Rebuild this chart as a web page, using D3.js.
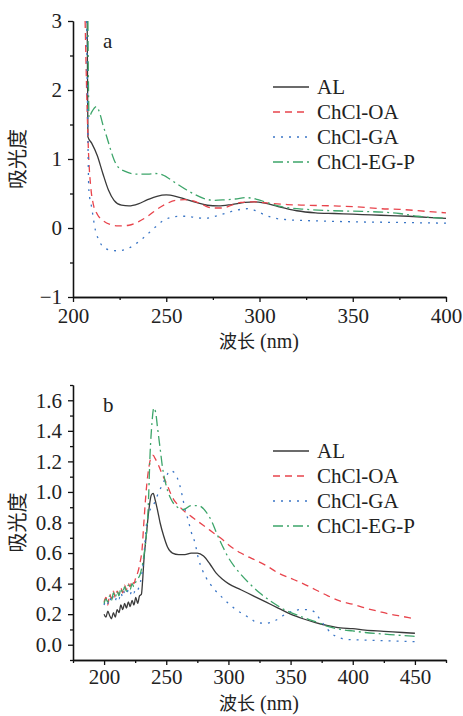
<!DOCTYPE html>
<html>
<head>
<meta charset="utf-8">
<script src="https://cdn.jsdelivr.net/npm/d3@7"></script>
<style>
  body { margin: 0; background: #fff; }
</style>
</head>
<body>
<div id="chart"></div>
<script>
// series names, shared by both panels
var names = ["AL", "ChCl-OA", "ChCl-GA", "ChCl-EG-P"];

// panel a: [wavelength nm, absorbance]
var alA = [[207.6,3.0],[208,1.32],[210,1.23],[213,1.05],[216,0.79],[219,0.55],[222,0.4],[226,0.33],[230,0.32],[235,0.35],[240,0.41],[245,0.46],[250,0.48],[255,0.46],[260,0.42],[266,0.37],[272,0.33],[278,0.32],[285,0.34],[292,0.37],[297,0.38],[303,0.36],[310,0.31],[320,0.25],[330,0.22],[340,0.21],[350,0.2],[360,0.19],[370,0.18],[380,0.17],[390,0.155],[400,0.14]];
var oaA = [[206.5,3.0],[207.5,1.8],[208.3,1.1],[209.5,0.6],[211,0.33],[213,0.2],[216,0.11],[220,0.05],[224,0.03],[230,0.04],[235,0.09],[240,0.17],[245,0.27],[250,0.35],[255,0.4],[260,0.41],[265,0.39],[270,0.33],[275,0.29],[280,0.29],[285,0.33],[290,0.37],[297,0.38],[305,0.36],[315,0.34],[325,0.33],[340,0.32],[350,0.31],[365,0.28],[375,0.27],[390,0.24],[400,0.22]];
var gaA = [[207.3,3.0],[207.9,1.5],[208.5,0.55],[210,0.3],[212,-0.03],[214,-0.18],[216,-0.27],[220,-0.32],[224,-0.33],[230,-0.29],[237,-0.16],[244,0.01],[248,0.1],[252,0.15],[257,0.17],[261,0.17],[266,0.15],[270,0.14],[275,0.16],[280,0.2],[285,0.24],[290,0.27],[294,0.28],[298,0.25],[302,0.2],[307,0.15],[315,0.12],[322,0.11],[335,0.1],[350,0.09],[375,0.08],[400,0.07]];
var egpA = [[208,3.0],[208.6,1.6],[210,1.68],[212.5,1.76],[214.5,1.65],[216,1.5],[218,1.33],[220,1.15],[222,0.99],[224,0.89],[228,0.82],[234,0.78],[240,0.78],[244,0.79],[248,0.77],[254,0.67],[261,0.55],[265,0.49],[270,0.43],[276,0.4],[282,0.41],[287,0.42],[293,0.44],[298,0.42],[304,0.37],[310,0.32],[316,0.29],[325,0.27],[340,0.25],[355,0.24],[366,0.23],[375,0.21],[385,0.17],[400,0.14]];

// panel b
var alB = [[200,0.2],[201.5,0.18],[203,0.22],[204.5,0.19],[206,0.17],[207.5,0.21],[209,0.18],[210.5,0.23],[212,0.21],[213.5,0.26],[215,0.23],[216.5,0.27],[218,0.24],[219.5,0.28],[221,0.25],[222.5,0.29],[224,0.26],[225.5,0.31],[227,0.27],[228.5,0.32],[230,0.33],[231,0.42],[232,0.55],[234,0.72],[236,0.88],[238,0.98],[239.5,0.99],[241,0.95],[243,0.88],[245,0.8],[248,0.71],[251,0.64],[255,0.6],[260,0.59],[265,0.59],[270,0.6],[275,0.6],[280,0.58],[285,0.53],[290,0.47],[295,0.43],[300,0.4],[310,0.36],[320,0.32],[330,0.28],[340,0.24],[350,0.2],[360,0.17],[370,0.145],[380,0.125],[390,0.11],[400,0.105],[410,0.095],[425,0.088],[440,0.08],[450,0.075]];
var oaB = [[200,0.28],[201.5,0.31],[203,0.26],[204.5,0.33],[206,0.3],[207.5,0.35],[209,0.31],[210.5,0.35],[212,0.33],[213.5,0.37],[215,0.34],[216.5,0.39],[218,0.36],[219.5,0.4],[221,0.38],[222.5,0.42],[224,0.4],[225.5,0.44],[227,0.47],[229,0.54],[230.5,0.62],[232,0.8],[234,1.02],[236,1.16],[238,1.23],[239.5,1.24],[241,1.22],[244,1.17],[247,1.11],[250,1.06],[253,1.0],[256,0.95],[260,0.91],[265,0.87],[270,0.84],[275,0.81],[280,0.78],[285,0.75],[290,0.72],[295,0.69],[300,0.655],[305,0.625],[310,0.6],[320,0.56],[330,0.52],[340,0.47],[350,0.435],[360,0.4],[370,0.36],[380,0.32],[390,0.285],[400,0.265],[410,0.24],[420,0.22],[430,0.2],[440,0.185],[450,0.17]];
var gaB = [[200,0.26],[201.5,0.29],[203,0.27],[204.5,0.31],[206,0.28],[207.5,0.32],[209,0.29],[210.5,0.32],[212,0.3],[213.5,0.34],[215,0.31],[216.5,0.35],[218,0.33],[219.5,0.36],[221,0.33],[222.5,0.36],[224,0.34],[225.5,0.37],[227,0.36],[228.5,0.39],[230,0.44],[232,0.58],[234,0.78],[236,0.86],[240,0.92],[243,0.98],[247,1.05],[250,1.1],[253,1.14],[256,1.13],[259,1.09],[261,1.04],[263,0.97],[265,0.89],[267.5,0.82],[270,0.74],[273,0.67],[276,0.56],[279,0.49],[282,0.44],[286,0.39],[290,0.35],[295,0.31],[300,0.27],[306,0.23],[312,0.2],[318,0.17],[323,0.145],[330,0.14],[338,0.16],[346,0.2],[352,0.22],[358,0.23],[364,0.23],[370,0.21],[374,0.16],[378,0.12],[382,0.08],[388,0.05],[395,0.035],[410,0.03],[430,0.025],[450,0.02]];
var egpB = [[200,0.27],[201.5,0.3],[203,0.28],[204.5,0.32],[206,0.29],[207.5,0.34],[209,0.31],[210.5,0.35],[212,0.32],[213.5,0.37],[215,0.34],[216.5,0.38],[218,0.35],[219.5,0.39],[221,0.36],[222.5,0.4],[224,0.38],[225.5,0.41],[227,0.43],[229,0.46],[230.5,0.51],[232,0.58],[234,0.72],[235.5,0.9],[237,1.25],[238.5,1.45],[240,1.55],[241.5,1.52],[243,1.42],[245,1.29],[247,1.16],[250,1.04],[254,0.95],[259,0.9],[264,0.885],[270,0.91],[276,0.91],[282,0.87],[287,0.8],[290,0.74],[295,0.65],[300,0.57],[305,0.51],[310,0.46],[317,0.4],[325,0.34],[335,0.28],[345,0.23],[355,0.195],[365,0.165],[372,0.145],[380,0.12],[390,0.1],[400,0.09],[410,0.08],[425,0.07],[440,0.06],[450,0.055]];

// tick values
var xMajorA = [200, 250, 300, 350, 400];
var xMinorA = [225, 275, 325, 375];
var yMajorA = [-1, 0, 1, 2, 3];
var yMinorA = [-0.5, 0.5, 1.5, 2.5];
var xMajorB = [200, 250, 300, 350, 400, 450];
var xMinorB = [175, 225, 275, 325, 375, 425, 475];
var yMajorB = [0, 0.2, 0.4, 0.6, 0.8, 1.0, 1.2, 1.4, 1.6];
var yMinorB = [-0.1, 0.1, 0.3, 0.5, 0.7, 0.9, 1.1, 1.3, 1.5, 1.7];

var colors = ["#3a3a3a", "#e8444c", "#3b76c6", "#3da56a"];
var dashes = [null, "7,5", "2,6", "10,4,2,4"];
var serif = "'Liberation Serif', 'Times New Roman', serif";
var cjk = "'Noto Sans CJK SC', sans-serif";

var svg = d3.select("#chart")
  .append("svg")
    .attr("width", 463)
    .attr("height", 716);

function drawPanel(p) {
  var x = d3.scaleLinear().domain(p.xDomain).range([73, 446]);
  var y = d3.scaleLinear().domain(p.yDomain).range(p.yRange);
  var bottom = p.yRange[0];

  // minor ticks
  svg.append("g")
    .attr("transform", "translate(0," + bottom + ")")
    .call(d3.axisBottom(x).tickValues(p.xMinor).tickSize(3).tickSizeOuter(0).tickFormat(""));
  svg.append("g")
    .attr("transform", "translate(73,0)")
    .call(d3.axisLeft(y).tickValues(p.yMinor).tickSize(3).tickSizeOuter(0).tickFormat(""));

  // major ticks + labels
  var gx = svg.append("g")
    .attr("transform", "translate(0," + bottom + ")")
    .call(d3.axisBottom(x).tickValues(p.xMajor).tickSize(5).tickSizeOuter(0).tickPadding(p.xPad));
  var gy = svg.append("g")
    .attr("transform", "translate(73,0)")
    .call(d3.axisLeft(y).tickValues(p.yMajor).tickSize(5).tickSizeOuter(0).tickPadding(6).tickFormat(p.yFormat));

  svg.selectAll(".domain, .tick line")
    .attr("stroke", "#111")
    .attr("stroke-width", 1.3);
  [gx, gy].forEach(function(g) {
    g.selectAll("text")
      .style("font-family", serif)
      .style("font-size", "21px")
      .attr("fill", "#222");
  });

  // curves
  var line = d3.line()
    .x(function(d) { return x(d[0]); })
    .y(function(d) { return y(d[1]); })
    .curve(d3.curveMonotoneX);

  p.series.forEach(function(s, i) {
    svg.append("path")
      .datum(s)
      .attr("fill", "none")
      .attr("stroke", colors[i])
      .attr("stroke-width", 1.3)
      .attr("stroke-dasharray", dashes[i])
      .attr("d", line);
  });

  // panel letter
  svg.append("text")
    .attr("x", 103)
    .attr("y", p.letterY)
    .text(p.letter)
    .style("font-family", serif)
    .style("font-size", "21px")
    .attr("fill", "#222");

  // legend
  names.forEach(function(n, i) {
    var ly = p.legendY + i * 25;
    svg.append("line")
      .attr("x1", 273).attr("x2", 309)
      .attr("y1", ly).attr("y2", ly)
      .attr("stroke", colors[i])
      .attr("stroke-width", 1.3)
      .attr("stroke-dasharray", dashes[i]);
    svg.append("text")
      .attr("x", 317)
      .attr("y", ly + 7)
      .text(n)
      .style("font-family", serif)
      .style("font-size", "21px")
      .attr("fill", "#222");
  });

  // axis titles
  var xt = svg.append("text")
    .attr("x", 259)
    .attr("y", p.xTitleY)
    .attr("text-anchor", "middle")
    .style("font-size", "18px")
    .attr("fill", "#222");
  xt.append("tspan").text("波长").style("font-family", cjk);
  xt.append("tspan").text(" (nm)").style("font-family", serif).style("font-size", "20px");

  var midY = (p.yRange[0] + p.yRange[1]) / 2;
  svg.append("text")
    .attr("transform", "translate(25," + midY + ") rotate(-90)")
    .attr("text-anchor", "middle")
    .text("吸光度")
    .style("font-family", cjk)
    .style("font-size", "20px")
    .attr("fill", "#222");
}

drawPanel({
  xDomain: [200, 400], yDomain: [-1, 3], yRange: [297, 21],
  xMajor: xMajorA, xMinor: xMinorA, yMajor: yMajorA, yMinor: yMinorA,
  yFormat: d3.format("d"), xPad: 6,
  series: [alA, oaA, gaA, egpA],
  letter: "a", letterY: 48, legendY: 87, xTitleY: 348
});

drawPanel({
  xDomain: [175, 475], yDomain: [-0.1, 1.7], yRange: [660, 385],
  xMajor: xMajorB, xMinor: xMinorB, yMajor: yMajorB, yMinor: yMinorB,
  yFormat: d3.format(".1f"), xPad: 4,
  series: [alB, oaB, gaB, egpB],
  letter: "b", letterY: 412, legendY: 451, xTitleY: 710
});
</script>
</body>
</html>
